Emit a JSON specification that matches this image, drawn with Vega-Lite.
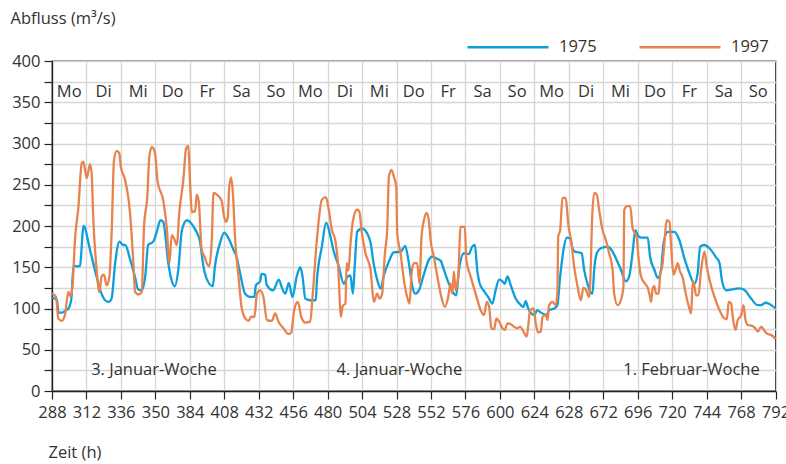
{
"$schema": "https://vega.github.io/schema/vega-lite/v6.json",
"width": 723.5, "height": 330,
"autosize": "none",
"padding": {"left": 52, "top": 61, "right": 10.5, "bottom": 73},
"background": "white",
"config": {
  "font": "Open Sans",
  "view": {"stroke": "#2a2a2a", "strokeWidth": 1.3},
  "axis": {"labelFont": "Open Sans", "labelFontSize": 16.5, "labelColor": "#333", "titleFont": "Open Sans", "titleFontSize": 16.5, "titleFontWeight": "normal", "titleColor": "#333", "domainColor": "#222", "domainWidth": 1.3, "tickColor": "#222", "tickWidth": 1.2, "tickSize": 8, "gridColor": "#d6d6d6", "gridWidth": 1.3, "gridOpacity": 1},
  "legend": {"labelFont": "Open Sans", "labelFontSize": 16.5, "labelColor": "#333"}
},
"datasets": {
"flow": [
{"h":288,"v":113,"s":"1975"},{"h":290,"v":112,"s":"1975"},{"h":291.5,"v":110,"s":"1975"},{"h":292.5,"v":95,"s":"1975"},{"h":295,"v":95,"s":"1975"},{"h":297,"v":97,"s":"1975"},{"h":299.5,"v":100,"s":"1975"},{"h":301.5,"v":112,"s":"1975"},{"h":303,"v":152,"s":"1975"},{"h":306.5,"v":151,"s":"1975"},{"h":307.5,"v":152,"s":"1975"},{"h":310,"v":200,"s":"1975"},{"h":314.5,"v":171,"s":"1975"},{"h":319,"v":139,"s":"1975"},{"h":322.5,"v":118,"s":"1975"},{"h":325,"v":110,"s":"1975"},{"h":327.5,"v":108,"s":"1975"},{"h":329.5,"v":112,"s":"1975"},{"h":332,"v":155,"s":"1975"},{"h":335,"v":181,"s":"1975"},{"h":337.5,"v":177,"s":"1975"},{"h":339,"v":177,"s":"1975"},{"h":342.5,"v":159,"s":"1975"},{"h":346,"v":137,"s":"1975"},{"h":348,"v":123,"s":"1975"},{"h":350.5,"v":122,"s":"1975"},{"h":353,"v":140,"s":"1975"},{"h":355,"v":177,"s":"1975"},{"h":358.5,"v":181,"s":"1975"},{"h":361,"v":193,"s":"1975"},{"h":363.5,"v":207,"s":"1975"},{"h":365.5,"v":205,"s":"1975"},{"h":369,"v":155,"s":"1975"},{"h":371.5,"v":133,"s":"1975"},{"h":373.5,"v":127,"s":"1975"},{"h":376,"v":147,"s":"1975"},{"h":378.5,"v":195,"s":"1975"},{"h":382,"v":207,"s":"1975"},{"h":384,"v":205,"s":"1975"},{"h":388,"v":195,"s":"1975"},{"h":391,"v":182,"s":"1975"},{"h":393.5,"v":151,"s":"1975"},{"h":396,"v":135,"s":"1975"},{"h":400,"v":127,"s":"1975"},{"h":401.5,"v":151,"s":"1975"},{"h":405,"v":179,"s":"1975"},{"h":408,"v":192,"s":"1975"},{"h":411,"v":185,"s":"1975"},{"h":414.5,"v":171,"s":"1975"},{"h":416.5,"v":163,"s":"1975"},{"h":419,"v":143,"s":"1975"},{"h":422.5,"v":118,"s":"1975"},{"h":426,"v":114,"s":"1975"},{"h":429,"v":114,"s":"1975"},{"h":430,"v":128,"s":"1975"},{"h":433,"v":133,"s":"1975"},{"h":434,"v":142,"s":"1975"},{"h":436.5,"v":141,"s":"1975"},{"h":437.5,"v":129,"s":"1975"},{"h":442,"v":122,"s":"1975"},{"h":446,"v":135,"s":"1975"},{"h":448,"v":126,"s":"1975"},{"h":450.5,"v":118,"s":"1975"},{"h":453,"v":131,"s":"1975"},{"h":455.5,"v":114,"s":"1975"},{"h":458.5,"v":139,"s":"1975"},{"h":461,"v":150,"s":"1975"},{"h":462.5,"v":139,"s":"1975"},{"h":464.5,"v":112,"s":"1975"},{"h":468,"v":110,"s":"1975"},{"h":471.8,"v":110,"s":"1975"},{"h":472.5,"v":133,"s":"1975"},{"h":476,"v":175,"s":"1975"},{"h":479,"v":204,"s":"1975"},{"h":482,"v":187,"s":"1975"},{"h":484,"v":171,"s":"1975"},{"h":487.6,"v":152,"s":"1975"},{"h":491.3,"v":130,"s":"1975"},{"h":493.6,"v":138,"s":"1975"},{"h":495.9,"v":140,"s":"1975"},{"h":497.6,"v":118,"s":"1975"},{"h":499,"v":155,"s":"1975"},{"h":500.6,"v":193,"s":"1975"},{"h":504,"v":197,"s":"1975"},{"h":507.6,"v":191,"s":"1975"},{"h":510,"v":179,"s":"1975"},{"h":512,"v":155,"s":"1975"},{"h":514.5,"v":135,"s":"1975"},{"h":517,"v":124,"s":"1975"},{"h":519,"v":139,"s":"1975"},{"h":522.7,"v":157,"s":"1975"},{"h":526,"v":168,"s":"1975"},{"h":531,"v":169,"s":"1975"},{"h":534,"v":176,"s":"1975"},{"h":536.6,"v":155,"s":"1975"},{"h":539,"v":127,"s":"1975"},{"h":541,"v":118,"s":"1975"},{"h":543.6,"v":122,"s":"1975"},{"h":547,"v":141,"s":"1975"},{"h":550.5,"v":159,"s":"1975"},{"h":552.5,"v":163,"s":"1975"},{"h":556.5,"v":160,"s":"1975"},{"h":558.7,"v":158,"s":"1975"},{"h":561,"v":147,"s":"1975"},{"h":564.5,"v":130,"s":"1975"},{"h":568,"v":118,"s":"1975"},{"h":569.6,"v":116,"s":"1975"},{"h":571.5,"v":147,"s":"1975"},{"h":575,"v":167,"s":"1975"},{"h":578.4,"v":166,"s":"1975"},{"h":580.7,"v":175,"s":"1975"},{"h":582.6,"v":177,"s":"1975"},{"h":584.2,"v":147,"s":"1975"},{"h":586,"v":130,"s":"1975"},{"h":589,"v":121,"s":"1975"},{"h":591.8,"v":114,"s":"1975"},{"h":594.8,"v":106,"s":"1975"},{"h":597,"v":122,"s":"1975"},{"h":599.5,"v":135,"s":"1975"},{"h":601.8,"v":133,"s":"1975"},{"h":603.4,"v":130,"s":"1975"},{"h":605.3,"v":139,"s":"1975"},{"h":607.6,"v":128,"s":"1975"},{"h":611,"v":112,"s":"1975"},{"h":614.6,"v":104,"s":"1975"},{"h":616.4,"v":102,"s":"1975"},{"h":618,"v":109,"s":"1975"},{"h":619.7,"v":100,"s":"1975"},{"h":622,"v":94,"s":"1975"},{"h":624,"v":92,"s":"1975"},{"h":626,"v":98,"s":"1975"},{"h":628.5,"v":95,"s":"1975"},{"h":631,"v":93,"s":"1975"},{"h":632.7,"v":92,"s":"1975"},{"h":634.3,"v":98,"s":"1975"},{"h":637.8,"v":100,"s":"1975"},{"h":640,"v":104,"s":"1975"},{"h":642,"v":139,"s":"1975"},{"h":644.3,"v":171,"s":"1975"},{"h":646.6,"v":186,"s":"1975"},{"h":649,"v":185,"s":"1975"},{"h":650.6,"v":173,"s":"1975"},{"h":652.2,"v":169,"s":"1975"},{"h":655,"v":168,"s":"1975"},{"h":657,"v":167,"s":"1975"},{"h":658.7,"v":147,"s":"1975"},{"h":661,"v":130,"s":"1975"},{"h":663,"v":120,"s":"1975"},{"h":664.5,"v":118,"s":"1975"},{"h":665.7,"v":147,"s":"1975"},{"h":667.5,"v":167,"s":"1975"},{"h":670.3,"v":173,"s":"1975"},{"h":675,"v":175,"s":"1975"},{"h":678.5,"v":169,"s":"1975"},{"h":680.8,"v":161,"s":"1975"},{"h":684.3,"v":147,"s":"1975"},{"h":687.8,"v":133,"s":"1975"},{"h":690.1,"v":139,"s":"1975"},{"h":692.4,"v":167,"s":"1975"},{"h":694.4,"v":195,"s":"1975"},{"h":696,"v":189,"s":"1975"},{"h":698.3,"v":186,"s":"1975"},{"h":703,"v":186,"s":"1975"},{"h":704.6,"v":163,"s":"1975"},{"h":707.6,"v":147,"s":"1975"},{"h":710,"v":137,"s":"1975"},{"h":712.3,"v":147,"s":"1975"},{"h":714,"v":179,"s":"1975"},{"h":717,"v":193,"s":"1975"},{"h":721.6,"v":193,"s":"1975"},{"h":725,"v":183,"s":"1975"},{"h":728.5,"v":161,"s":"1975"},{"h":732,"v":143,"s":"1975"},{"h":735.5,"v":130,"s":"1975"},{"h":737.8,"v":143,"s":"1975"},{"h":739.5,"v":175,"s":"1975"},{"h":742.5,"v":177,"s":"1975"},{"h":746,"v":173,"s":"1975"},{"h":750.2,"v":163,"s":"1975"},{"h":753,"v":155,"s":"1975"},{"h":754.8,"v":133,"s":"1975"},{"h":757.6,"v":122,"s":"1975"},{"h":761,"v":123,"s":"1975"},{"h":767,"v":124.5,"s":"1975"},{"h":770.4,"v":122.5,"s":"1975"},{"h":775,"v":112,"s":"1975"},{"h":779.7,"v":104,"s":"1975"},{"h":782,"v":104,"s":"1975"},{"h":785,"v":107,"s":"1975"},{"h":787.8,"v":105.5,"s":"1975"},{"h":792,"v":100,"s":"1975"},
{"h":288,"v":118,"s":"1997"},{"h":290.8,"v":114,"s":"1997"},{"h":292.4,"v":88,"s":"1997"},{"h":294.7,"v":85,"s":"1997"},{"h":297,"v":92,"s":"1997"},{"h":299.4,"v":120,"s":"1997"},{"h":301,"v":114,"s":"1997"},{"h":302.4,"v":130,"s":"1997"},{"h":304,"v":183,"s":"1997"},{"h":306.4,"v":223,"s":"1997"},{"h":308.7,"v":276,"s":"1997"},{"h":309.8,"v":278,"s":"1997"},{"h":312.2,"v":258,"s":"1997"},{"h":314.5,"v":275,"s":"1997"},{"h":315.6,"v":264,"s":"1997"},{"h":316.8,"v":207,"s":"1997"},{"h":319.1,"v":147,"s":"1997"},{"h":321,"v":120,"s":"1997"},{"h":322.6,"v":139,"s":"1997"},{"h":324.2,"v":141,"s":"1997"},{"h":326.1,"v":128,"s":"1997"},{"h":328,"v":139,"s":"1997"},{"h":329.6,"v":195,"s":"1997"},{"h":331.2,"v":280,"s":"1997"},{"h":333.1,"v":291,"s":"1997"},{"h":334.9,"v":288,"s":"1997"},{"h":335.9,"v":272,"s":"1997"},{"h":338.9,"v":256,"s":"1997"},{"h":342.4,"v":215,"s":"1997"},{"h":344.7,"v":155,"s":"1997"},{"h":345.9,"v":120,"s":"1997"},{"h":348.2,"v":117,"s":"1997"},{"h":350.5,"v":120,"s":"1997"},{"h":352.1,"v":199,"s":"1997"},{"h":354.4,"v":236,"s":"1997"},{"h":355.8,"v":284,"s":"1997"},{"h":357.5,"v":296,"s":"1997"},{"h":359.8,"v":288,"s":"1997"},{"h":361.4,"v":256,"s":"1997"},{"h":365.6,"v":230,"s":"1997"},{"h":367.9,"v":199,"s":"1997"},{"h":369.8,"v":155,"s":"1997"},{"h":371.4,"v":189,"s":"1997"},{"h":373,"v":185,"s":"1997"},{"h":374.9,"v":177,"s":"1997"},{"h":376.8,"v":219,"s":"1997"},{"h":379.5,"v":256,"s":"1997"},{"h":381.4,"v":294,"s":"1997"},{"h":383,"v":297,"s":"1997"},{"h":384.2,"v":252,"s":"1997"},{"h":385.4,"v":217,"s":"1997"},{"h":387.7,"v":218,"s":"1997"},{"h":388.8,"v":238,"s":"1997"},{"h":390.2,"v":230,"s":"1997"},{"h":392.3,"v":171,"s":"1997"},{"h":394.2,"v":163,"s":"1997"},{"h":395.8,"v":155,"s":"1997"},{"h":397.5,"v":151,"s":"1997"},{"h":399.3,"v":183,"s":"1997"},{"h":400.5,"v":240,"s":"1997"},{"h":402.8,"v":238,"s":"1997"},{"h":406.3,"v":230,"s":"1997"},{"h":407.5,"v":215,"s":"1997"},{"h":409.1,"v":205,"s":"1997"},{"h":410.5,"v":211,"s":"1997"},{"h":411.4,"v":246,"s":"1997"},{"h":412.8,"v":259,"s":"1997"},{"h":414,"v":240,"s":"1997"},{"h":415.6,"v":183,"s":"1997"},{"h":417.9,"v":139,"s":"1997"},{"h":420.2,"v":100,"s":"1997"},{"h":422.6,"v":88,"s":"1997"},{"h":424.9,"v":85,"s":"1997"},{"h":426.7,"v":90,"s":"1997"},{"h":429.1,"v":90,"s":"1997"},{"h":430.7,"v":118,"s":"1997"},{"h":433,"v":122,"s":"1997"},{"h":435.3,"v":114,"s":"1997"},{"h":437.7,"v":86,"s":"1997"},{"h":441.1,"v":85,"s":"1997"},{"h":443.5,"v":94,"s":"1997"},{"h":445.8,"v":84,"s":"1997"},{"h":449.3,"v":76,"s":"1997"},{"h":452.8,"v":69,"s":"1997"},{"h":454.6,"v":71,"s":"1997"},{"h":456.7,"v":98,"s":"1997"},{"h":459.3,"v":108,"s":"1997"},{"h":461.6,"v":90,"s":"1997"},{"h":464.4,"v":83,"s":"1997"},{"h":467.9,"v":84,"s":"1997"},{"h":469.5,"v":114,"s":"1997"},{"h":472.5,"v":183,"s":"1997"},{"h":476,"v":232,"s":"1997"},{"h":478.8,"v":235,"s":"1997"},{"h":480.6,"v":222,"s":"1997"},{"h":483,"v":195,"s":"1997"},{"h":485.3,"v":183,"s":"1997"},{"h":487.2,"v":155,"s":"1997"},{"h":489.3,"v":90,"s":"1997"},{"h":490.5,"v":103,"s":"1997"},{"h":492.4,"v":106,"s":"1997"},{"h":493.3,"v":155,"s":"1997"},{"h":494.5,"v":146,"s":"1997"},{"h":495.8,"v":175,"s":"1997"},{"h":497.5,"v":205,"s":"1997"},{"h":500.6,"v":220,"s":"1997"},{"h":502.2,"v":217,"s":"1997"},{"h":503.6,"v":195,"s":"1997"},{"h":506.4,"v":167,"s":"1997"},{"h":509.9,"v":147,"s":"1997"},{"h":512.2,"v":108,"s":"1997"},{"h":514.5,"v":118,"s":"1997"},{"h":516.2,"v":112,"s":"1997"},{"h":518,"v":118,"s":"1997"},{"h":519.9,"v":167,"s":"1997"},{"h":521.5,"v":195,"s":"1997"},{"h":522.7,"v":260,"s":"1997"},{"h":524.5,"v":268,"s":"1997"},{"h":526.1,"v":260,"s":"1997"},{"h":527.8,"v":248,"s":"1997"},{"h":528.5,"v":191,"s":"1997"},{"h":530.8,"v":167,"s":"1997"},{"h":533.1,"v":135,"s":"1997"},{"h":535.4,"v":114,"s":"1997"},{"h":537.1,"v":106,"s":"1997"},{"h":538.5,"v":143,"s":"1997"},{"h":540.1,"v":155,"s":"1997"},{"h":542.4,"v":155,"s":"1997"},{"h":544,"v":130,"s":"1997"},{"h":545.4,"v":187,"s":"1997"},{"h":547.1,"v":207,"s":"1997"},{"h":548.9,"v":216,"s":"1997"},{"h":550.5,"v":207,"s":"1997"},{"h":551.7,"v":183,"s":"1997"},{"h":554,"v":163,"s":"1997"},{"h":556.4,"v":139,"s":"1997"},{"h":558.7,"v":118,"s":"1997"},{"h":561.7,"v":102,"s":"1997"},{"h":564,"v":114,"s":"1997"},{"h":565.6,"v":130,"s":"1997"},{"h":566.8,"v":118,"s":"1997"},{"h":568,"v":145,"s":"1997"},{"h":569.1,"v":122,"s":"1997"},{"h":571,"v":139,"s":"1997"},{"h":572.6,"v":199,"s":"1997"},{"h":575.6,"v":199,"s":"1997"},{"h":576.6,"v":159,"s":"1997"},{"h":579.6,"v":139,"s":"1997"},{"h":583.1,"v":118,"s":"1997"},{"h":586.6,"v":98,"s":"1997"},{"h":588.9,"v":92,"s":"1997"},{"h":590.9,"v":108,"s":"1997"},{"h":592.5,"v":102,"s":"1997"},{"h":594.1,"v":76,"s":"1997"},{"h":596,"v":75,"s":"1997"},{"h":597.6,"v":88,"s":"1997"},{"h":599.5,"v":84,"s":"1997"},{"h":601.8,"v":76,"s":"1997"},{"h":603.4,"v":74,"s":"1997"},{"h":605.3,"v":82,"s":"1997"},{"h":607.6,"v":81,"s":"1997"},{"h":609.9,"v":78,"s":"1997"},{"h":612.2,"v":76,"s":"1997"},{"h":614.1,"v":78,"s":"1997"},{"h":616.4,"v":72,"s":"1997"},{"h":618.7,"v":66,"s":"1997"},{"h":619.7,"v":78,"s":"1997"},{"h":621.1,"v":98,"s":"1997"},{"h":623.4,"v":100,"s":"1997"},{"h":625,"v":82,"s":"1997"},{"h":626.6,"v":71,"s":"1997"},{"h":628.5,"v":72,"s":"1997"},{"h":629.7,"v":90,"s":"1997"},{"h":632,"v":92,"s":"1997"},{"h":633.2,"v":86,"s":"1997"},{"h":634.3,"v":104,"s":"1997"},{"h":636.6,"v":108,"s":"1997"},{"h":639,"v":104,"s":"1997"},{"h":640.1,"v":122,"s":"1997"},{"h":640.6,"v":187,"s":"1997"},{"h":642,"v":195,"s":"1997"},{"h":643.6,"v":234,"s":"1997"},{"h":645.9,"v":234,"s":"1997"},{"h":647.6,"v":203,"s":"1997"},{"h":649.9,"v":179,"s":"1997"},{"h":651.7,"v":151,"s":"1997"},{"h":654.1,"v":127,"s":"1997"},{"h":656.4,"v":110,"s":"1997"},{"h":658.2,"v":125,"s":"1997"},{"h":659.9,"v":123,"s":"1997"},{"h":662.2,"v":114,"s":"1997"},{"h":663.4,"v":155,"s":"1997"},{"h":664.1,"v":203,"s":"1997"},{"h":665.7,"v":240,"s":"1997"},{"h":667.5,"v":238,"s":"1997"},{"h":669.2,"v":219,"s":"1997"},{"h":671.5,"v":195,"s":"1997"},{"h":673.8,"v":183,"s":"1997"},{"h":676.1,"v":167,"s":"1997"},{"h":678.5,"v":147,"s":"1997"},{"h":679.6,"v":118,"s":"1997"},{"h":682,"v":104,"s":"1997"},{"h":684.3,"v":110,"s":"1997"},{"h":686.1,"v":127,"s":"1997"},{"h":686.6,"v":219,"s":"1997"},{"h":688.5,"v":224,"s":"1997"},{"h":690.8,"v":224,"s":"1997"},{"h":692.5,"v":197,"s":"1997"},{"h":695.3,"v":187,"s":"1997"},{"h":696.7,"v":159,"s":"1997"},{"h":698.3,"v":139,"s":"1997"},{"h":700.7,"v":131,"s":"1997"},{"h":703,"v":125,"s":"1997"},{"h":704.6,"v":114,"s":"1997"},{"h":705.3,"v":108,"s":"1997"},{"h":706.5,"v":125,"s":"1997"},{"h":707.6,"v":127,"s":"1997"},{"h":708.8,"v":118,"s":"1997"},{"h":710.6,"v":118,"s":"1997"},{"h":711.6,"v":139,"s":"1997"},{"h":713.4,"v":155,"s":"1997"},{"h":714.6,"v":179,"s":"1997"},{"h":716.2,"v":207,"s":"1997"},{"h":718.1,"v":205,"s":"1997"},{"h":719.2,"v":179,"s":"1997"},{"h":720.9,"v":141,"s":"1997"},{"h":722.7,"v":149,"s":"1997"},{"h":723.9,"v":155,"s":"1997"},{"h":725.1,"v":147,"s":"1997"},{"h":727.4,"v":137,"s":"1997"},{"h":729.7,"v":116,"s":"1997"},{"h":732,"v":100,"s":"1997"},{"h":733.2,"v":94,"s":"1997"},{"h":734.4,"v":133,"s":"1997"},{"h":735.5,"v":127,"s":"1997"},{"h":736.7,"v":116,"s":"1997"},{"h":738.3,"v":116,"s":"1997"},{"h":740.2,"v":147,"s":"1997"},{"h":742.5,"v":169,"s":"1997"},{"h":744.1,"v":151,"s":"1997"},{"h":746,"v":135,"s":"1997"},{"h":749.5,"v":114,"s":"1997"},{"h":753,"v":98,"s":"1997"},{"h":756.4,"v":88,"s":"1997"},{"h":758.1,"v":87,"s":"1997"},{"h":759.4,"v":108,"s":"1997"},{"h":761.1,"v":106,"s":"1997"},{"h":762.2,"v":90,"s":"1997"},{"h":764.1,"v":74,"s":"1997"},{"h":765.7,"v":86,"s":"1997"},{"h":768.1,"v":92,"s":"1997"},{"h":769.7,"v":104,"s":"1997"},{"h":771.1,"v":86,"s":"1997"},{"h":772.7,"v":80,"s":"1997"},{"h":775.7,"v":79,"s":"1997"},{"h":778,"v":76,"s":"1997"},{"h":779.7,"v":72,"s":"1997"},{"h":782,"v":78,"s":"1997"},{"h":784.3,"v":73,"s":"1997"},{"h":786.6,"v":69,"s":"1997"},{"h":789,"v":68,"s":"1997"},{"h":792,"v":63,"s":"1997"}
],
"days": [
{"h":300,"v":362,"t":"Mo"},{"h":324,"v":362,"t":"Di"},{"h":348,"v":362,"t":"Mi"},{"h":372,"v":362,"t":"Do"},{"h":396,"v":362,"t":"Fr"},{"h":420,"v":362,"t":"Sa"},{"h":444,"v":362,"t":"So"},
{"h":468,"v":362,"t":"Mo"},{"h":492,"v":362,"t":"Di"},{"h":516,"v":362,"t":"Mi"},{"h":540,"v":362,"t":"Do"},{"h":564,"v":362,"t":"Fr"},{"h":588,"v":362,"t":"Sa"},{"h":612,"v":362,"t":"So"},
{"h":636,"v":362,"t":"Mo"},{"h":660,"v":362,"t":"Di"},{"h":684,"v":362,"t":"Mi"},{"h":708,"v":362,"t":"Do"},{"h":732,"v":362,"t":"Fr"},{"h":756,"v":362,"t":"Sa"},{"h":780,"v":362,"t":"So"}
],
"weeks": [
{"h":359,"v":26,"t":"3. Januar-Woche"},{"h":530,"v":26,"t":"4. Januar-Woche"},{"h":733.5,"v":26,"t":"1. Februar-Woche"}
]
},
"layer": [
{
 "data": {"name": "flow"},
 "mark": {"type": "line", "interpolate": "monotone", "strokeWidth": 2.3},
 "encoding": {
  "x": {"field": "h", "type": "quantitative", "scale": {"domain": [288, 792], "nice": false, "zero": false},
        "axis": {"title": "Zeit (h)", "values": [288,312,336,360,384,408,432,456,480,504,528,552,576,600,624,648,672,696,720,744,768,792], "tickCount": 100,
                 "labelExpr": "datum.value == 360 ? '350' : datum.value == 648 ? '628' : datum.label", "labelPadding": 5, "labelFlush": false, "labelOverlap": false,
                 "titleAlign": "left", "titleAnchor": "start", "titleBaseline": "middle", "titleX": -4, "titleY": 61}},
  "y": {"field": "v", "type": "quantitative", "scale": {"domain": [0, 400], "nice": false},
        "axis": {"title": "Abfluss (m³/s)", "values": [0,25,50,75,100,125,150,175,200,225,250,275,300,325,350,375,400], "tickCount": 100, "labelOverlap": false,
                 "labelExpr": "datum.value % 50 == 0 ? datum.label : ''", "labelPadding": 4,
                 "titleAngle": 0, "titleAlign": "left", "titleAnchor": "start", "titleBaseline": "middle", "titleX": -42, "titleY": -43}},
  "color": {"field": "s", "type": "nominal", "scale": {"domain": ["1975", "1997"], "range": ["#0c9fda", "#e8834e"]},
            "legend": {"title": null, "orient": "none", "legendX": 414, "legendY": -56, "direction": "horizontal",
                       "symbolType": "stroke", "symbolSize": 6561, "symbolStrokeWidth": 2.5, "labelOffset": 9, "columnPadding": 37}}
 }
},
{
 "data": {"name": "days"},
 "mark": {"type": "text", "fontSize": 16.5, "color": "#333", "align": "center", "baseline": "middle"},
 "encoding": {"x": {"field": "h", "type": "quantitative"}, "y": {"field": "v", "type": "quantitative"}, "text": {"field": "t"}}
},
{
 "data": {"name": "weeks"},
 "mark": {"type": "text", "fontSize": 16.5, "color": "#333", "align": "center", "baseline": "middle"},
 "encoding": {"x": {"field": "h", "type": "quantitative"}, "y": {"field": "v", "type": "quantitative"}, "text": {"field": "t"}}
}
]
}
